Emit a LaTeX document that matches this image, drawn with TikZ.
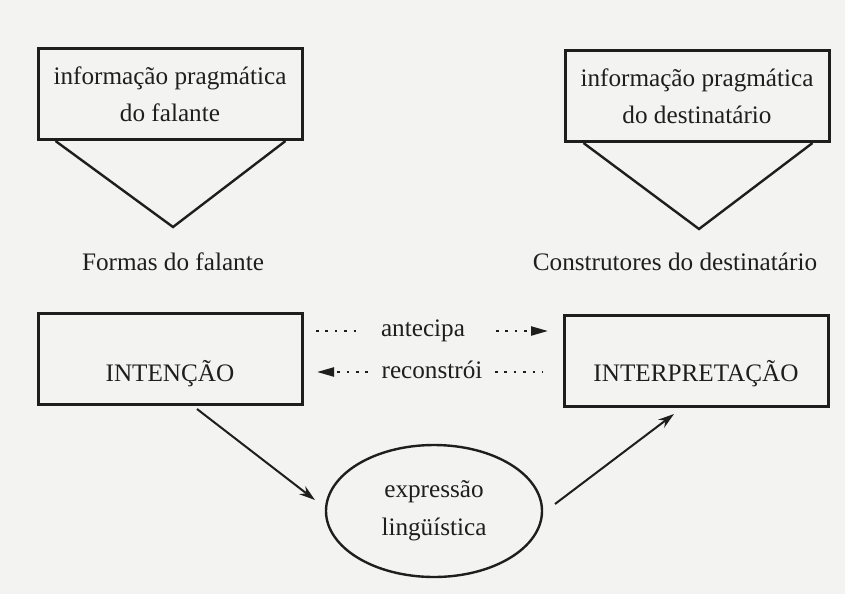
\documentclass[tikz,border=0pt]{standalone}
\usepackage{fontspec}
\setmainfont{Liberation Serif}
\usetikzlibrary{arrows.meta,calc,shapes.geometric}
\definecolor{paper}{HTML}{F3F3F1}
\definecolor{ink}{HTML}{1E1E1E}
\begin{document}
\begin{tikzpicture}[x=0.5pt,y=-0.5pt,
  txt/.style={font=\fontsize{12.6}{18.5}\selectfont, text=ink, inner sep=0pt},
  box/.style={txt, draw=ink, line width=1.5pt, minimum width=132pt, minimum height=45.5pt, align=center},
  tri/.style={draw=ink, line width=1.2pt, line join=miter},
  arr/.style={draw=ink, line width=1pt, -{Stealth[length=8pt,width=5pt]}},
  dotline/.style={draw=ink, line width=1.1pt, dash pattern=on 1.3pt off 3.4pt},
  dotarr/.style={dotline, -{Triangle[length=8.5pt,width=4.5pt]}}
]
\fill[paper] (0,0) rectangle (845,594);
\useasboundingbox (0,0) rectangle (845,594);

% top boxes
\node[box] (ipf) at (170,94) {informação pragmática\\do falante};
\node[box] (ipd) at (697,96) {informação pragmática\\do destinatário};

% triangles
\coordinate (tfv) at (173,227);
\coordinate (tdv) at (699,229);
\draw[tri] ($(ipf.south west)+(19,0)$) -- (tfv) -- ($(ipf.south east)+(-18,0)$);
\draw[tri] ($(ipd.south west)+(20,0)$) -- (tdv) -- ($(ipd.south east)+(-18,0)$);

\node[txt] (ff) at (173,262) {Formas do falante};
\node[txt] (cd) at (675,262) {Construtores do destinatário};

% middle boxes
\node[box] (int) at (170,359) {};
\node[txt] (intT) at (170,374) {INTENÇÃO};
\node[box] (inter) at (696,361) {};
\node[txt] (interT) at (696,374) {INTERPRETAÇÃO};

% dotted arrows
\node[txt] (ant) at (423,331) {antecipa};
\node[txt] (rec) at (432,370) {reconstrói};
\coordinate (a1) at (316,331);
\coordinate (a2) at (496,331);
\coordinate (a3) at (548,331);
\draw[dotline] (a1) -- ($(ant.west)+(-20,0)$);
\draw[dotarr] (a2) -- (a3);
\coordinate (r1) at (368,372);
\coordinate (r2) at (317,372);
\coordinate (r3) at (495,372);
\coordinate (r4) at (543,372);
\draw[dotarr] (r1) -- (r2);
\draw[dotline] (r3) -- (r4);

% ellipse
\node[ellipse, draw=ink, line width=1.2pt, minimum width=108pt, minimum height=66pt, txt, align=center, font=\fontsize{12.6}{19}\selectfont] (expr) at (434,511) {expressão\\lingüística};

% solid arrows
\coordinate (s1) at ($(int.south)+(27,3)$);
\coordinate (e1) at (315,500);
\draw[arr] (s1) -- (e1);
\coordinate (s2) at (555,504);
\coordinate (e2) at ($(inter.south)+(-22,6)$);
\draw[arr] (s2) -- (e2);
\end{tikzpicture}
\end{document}
